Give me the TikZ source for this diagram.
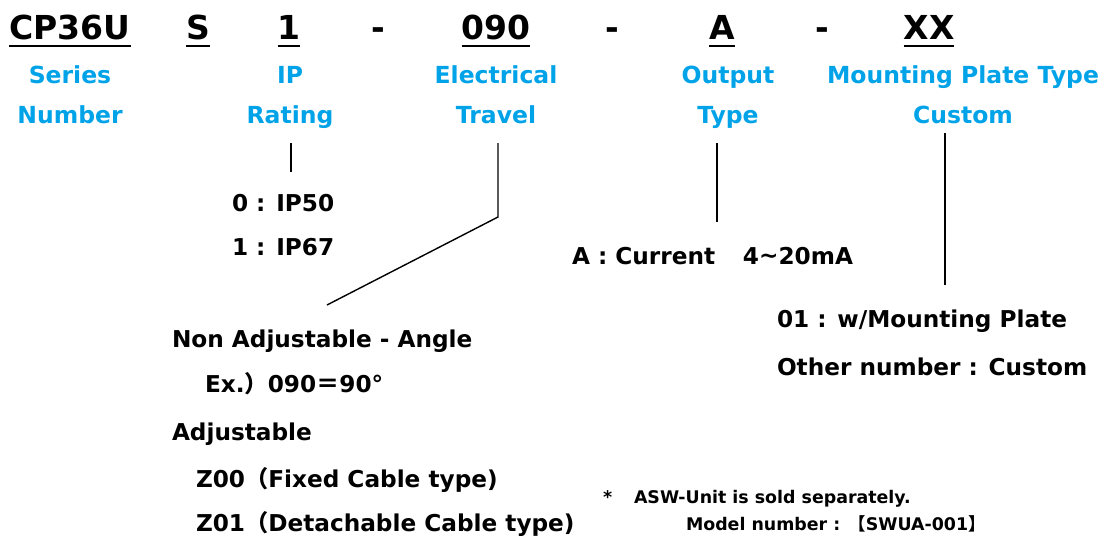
\documentclass[tikz,border=0pt]{standalone}
\usepackage{fontspec}
\setmainfont{DejaVu Sans}
\newfontfamily\cjk{Noto Sans CJK JP}
\definecolor{lblue}{RGB}{0,162,232}
\begin{document}
\begin{tikzpicture}[x=1pt,y=-1pt,
  every node/.style={inner sep=0pt,outer sep=0pt},
  code/.style={anchor=base,font=\fontsize{33}{33}\selectfont\bfseries},
  lab/.style={anchor=base,text=lblue,font=\fontsize{23.5}{23.5}\selectfont\bfseries},
  opt/.style={anchor=base west,font=\fontsize{23.2}{23.2}\selectfont\bfseries},
  note/.style={anchor=base west,font=\fontsize{17.4}{17.4}\selectfont\bfseries},
  ul/.style={line width=2.6pt},
  conn/.style={line width=1.4pt}]
\useasboundingbox (0,0) rectangle (1109,543);
% code row
\node[code] (cp) at (70,40) {CP36U};
\node[code] (s) at (198,40) {S};
\node[code] (one) at (289,40) {1};
\node[code] (d1) at (378,40) {-};
\node[code] (ang) at (496,40) {090};
\node[code] (d2) at (612,40) {-};
\node[code] (out) at (722,40) {A};
\node[code] (d3) at (822,40) {-};
\node[code] (xx) at (929,40) {XX};
\foreach \n in {cp,s,one,ang,out,xx}
  \draw[ul] ([yshift=-6pt]\n.base west) -- ([yshift=-6pt]\n.base east);
% blue labels
\node[lab] (ser) at (70,84) {Series};
\node[lab] (num) at (70,124) {Number};
\node[lab] (ip) at (290,84) {IP};
\node[lab] (rat) at (290,124) {Rating};
\node[lab] (ele) at (496,84) {Electrical};
\node[lab] (tra) at (496,124) {Travel};
\node[lab] (outp) at (728,84) {Output};
\node[lab] (typ) at (728,124) {Type};
\node[lab] (mpt) at (963,84) {Mounting Plate Type};
\node[lab] (cus) at (963,124) {Custom};
% options
\node[opt] (ip50) at (232,211) {0 : IP50};
\node[opt] (ip67) at (232,255) {1 : IP67};
\node[opt] (cur) at (572,264) {A : Current\hspace{1.2em}4\raisebox{1pt}{\char`\~}20mA};
\node[opt] (wmp) at (777,327) {01 : w/Mounting Plate};
\node[opt] (oth) at (777,375) {Other number : Custom};
\node[opt] (nadj) at (172,347) {Non Adjustable - Angle};
\node[opt] (ex) at (205,392) {Ex.{\cjk ）}090{\cjk ＝}90°};
\node[opt] (adj) at (172,440) {Adjustable};
\node[opt] (z00) at (196,487) {Z00{\cjk （}Fixed Cable type)};
\node[opt] (z01) at (196,531) {Z01{\cjk （}Detachable Cable type)};
\node[note] (star) at (603,503) {*};
\node[note] (asw) at (634,503) {ASW-Unit is sold separately.};
\node[note] (mod) at (686,530) {Model number : {\cjk 【}SWUA-001{\cjk 】}};
% connectors
\coordinate (a1) at (291,143);
\coordinate (a2) at (291,172);
\coordinate (b1) at (498,143);
\coordinate (b2) at (498,217);
\coordinate (b3) at (327,305);
\coordinate (c1) at (717,143);
\coordinate (c2) at (717,222);
\coordinate (e1) at (945,133);
\coordinate (e2) at (945,285);
\draw[conn] (a1) -- (a2);
\draw[conn] (b1) -- (b2) -- (b3);
\draw[conn] (c1) -- (c2);
\draw[conn] (e1) -- (e2);
\end{tikzpicture}
\end{document}
